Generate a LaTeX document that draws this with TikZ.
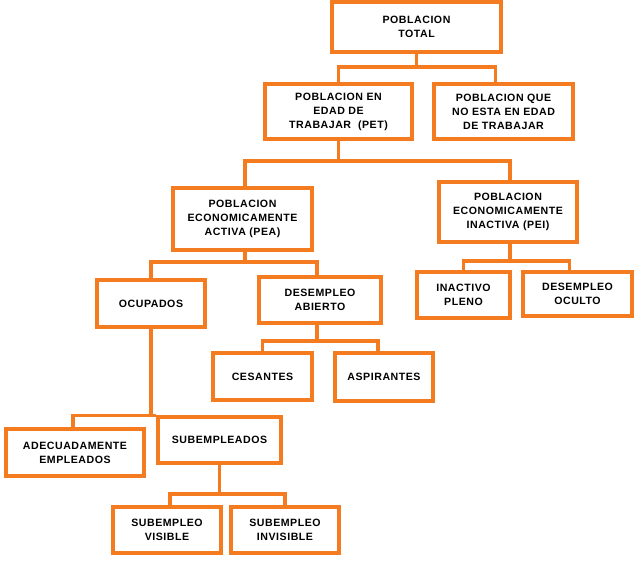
\documentclass[tikz,border=0pt]{standalone}
\usepackage{fontspec}
\newfontfamily\boxfont[LetterSpace=5]{Liberation Sans Bold}
\usepackage{xcolor}
\definecolor{boxorange}{HTML}{F47B20}
\usetikzlibrary{positioning}

\begin{document}
\begin{tikzpicture}[x=1pt, y=-1pt,
    popbox/.style={draw=boxorange, line width=3.6pt, fill=white, inner sep=0pt,
        align=center, font=\boxfont\fontsize{10.6}{14}\selectfont},
    link/.style={draw=boxorange, line width=3.2pt},
]
\useasboundingbox[fill=white] (0,0) rectangle (636,562);

% Level 1
\node[popbox, minimum width=169pt, minimum height=50pt] (tot) at (416.5,27) {POBLACION\\TOTAL};

% Level 2
\node[popbox, minimum width=147pt, minimum height=55pt] (pet) at (338.5,111.5)
    {POBLACION EN\\EDAD DE\\TRABAJAR~~(PET)};
\node[popbox, minimum width=139pt, minimum height=55pt] (noedad) at (503.5,111.5)
    {POBLACION QUE\\NO ESTA EN EDAD\\DE TRABAJAR};

% Level 3
\node[popbox, minimum width=139pt, minimum height=62pt] (pea) at (242.5,219)
    {POBLACION\\ECONOMICAMENTE\\ACTIVA (PEA)};
\node[popbox, minimum width=138pt, minimum height=60pt] (pei) at (508,212)
    {POBLACION\\ECONOMICAMENTE\\INACTIVA (PEI)};

% Level 4
\node[popbox, minimum width=108pt, minimum height=47pt] (ocup) at (151,303.5) {OCUPADOS};
\node[popbox, minimum width=122pt, minimum height=46pt] (desab) at (320,300) {DESEMPLEO\\ABIERTO};
\node[popbox, minimum width=93pt, minimum height=46pt] (inact) at (463.5,295) {INACTIVO\\PLENO};
\node[popbox, minimum width=109pt, minimum height=44pt] (ocul) at (577.5,294) {DESEMPLEO\\OCULTO};

% Level 5
\node[popbox, minimum width=99pt, minimum height=47pt] (ces) at (262.5,376.5) {CESANTES};
\node[popbox, minimum width=98pt, minimum height=48pt] (asp) at (384,377) {ASPIRANTES};
\node[popbox, minimum width=138pt, minimum height=47pt] (adec) at (75,452.5)
    {ADECUADAMENTE\\EMPLEADOS};
\node[popbox, minimum width=123pt, minimum height=46pt] (sub) at (219.5,440) {SUBEMPLEADOS};

% Level 6
\node[popbox, minimum width=108pt, minimum height=46pt] (subv) at (167,530) {SUBEMPLEO\\VISIBLE};
\node[popbox, minimum width=108pt, minimum height=46pt] (subi) at (285,530) {SUBEMPLEO\\INVISIBLE};

% Bus heights
\coordinate (btot) at (0,67);
\coordinate (bpet) at (0,161);
\coordinate (bpea) at (0,262);
\coordinate (bpei) at (0,261);
\coordinate (bdes) at (0,341);
\coordinate (bsub) at (0,494);

% Connectors
\draw[link] (tot.south) -- (tot.south |- btot);
\draw[link] (pet.north) |- ([xshift=-8pt]noedad.north |- btot) -- ([xshift=-8pt]noedad.north);

\draw[link] (pet.south) -- (pet.south |- bpet);
\draw[link] ([xshift=2.5pt]pea.north) |- ([xshift=2pt]pei.north |- bpet) -- ([xshift=2pt]pei.north);

\draw[link] ([xshift=2.5pt]pea.south) -- ([xshift=2.5pt]pea.south |- bpea);
\draw[link] (ocup.north) |- ([xshift=-3pt]desab.north |- bpea) -- ([xshift=-3pt]desab.north);

\draw[link] ([xshift=2pt]pei.south) -- ([xshift=2pt]pei.south |- bpei);
\draw[link] (inact.north) |- ([xshift=-8pt]ocul.north |- bpei) -- ([xshift=-8pt]ocul.north);

\draw[link] ([xshift=-3pt]desab.south) -- ([xshift=-3pt]desab.south |- bdes);
\draw[link] (ces.north) |- ([xshift=-6pt]asp.north |- bdes) -- ([xshift=-6pt]asp.north);

\draw[link] (ocup.south) -- (ocup.south |- sub.north);
\draw[link] ([xshift=-2pt]adec.north) |- (sub.north west);

\draw[link] (sub.south) -- (sub.south |- bsub);
\draw[link] ([xshift=3pt]subv.north) |- (subi.north |- bsub) -- (subi.north);

\end{tikzpicture}
\end{document}
